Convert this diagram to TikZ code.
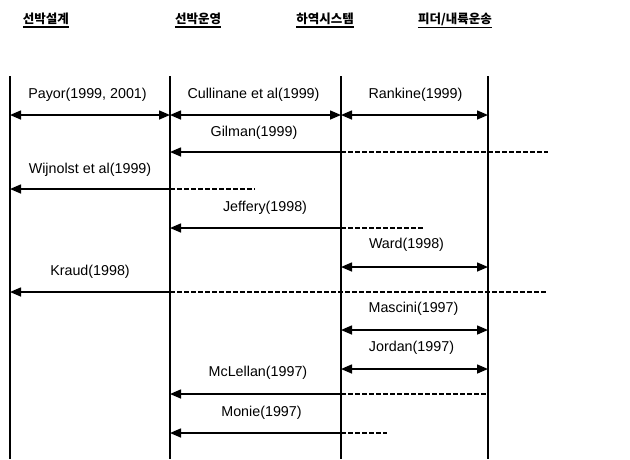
\documentclass[tikz,border=0pt]{standalone}
\usepackage{fontspec}
\setmainfont{Liberation Sans}
\newfontfamily\krfont{Noto Sans CJK KR}
\usetikzlibrary{arrows.meta}
\begin{document}
\begin{tikzpicture}[x=1pt,y=-1pt,
  lane/.style={line width=1.5pt},
  conn/.style={line width=1.5pt},
  dline/.style={line width=1.2pt, dash pattern=on 4.5pt off 2.5pt},
  tipend/.style={-{Triangle[length=11pt,width=9pt]}},
  both/.style={{Triangle[length=11pt,width=9pt]}-{Triangle[length=11pt,width=9pt]}},
  lbl/.style={inner sep=0pt, font=\fontsize{14.3}{17}\selectfont},
  hdr/.style={inner sep=0pt, font=\krfont\bfseries\fontsize{12.5}{14}\selectfont},
  uline/.style={line width=1.3pt}]
\useasboundingbox (0,0) rectangle (630,459);
% headers
\node[hdr] (h1) at (46,19) {선박설계};
\node[hdr] (h2) at (198,19) {선박운영};
\node[hdr] (h3) at (325,19) {하역시스템};
\node[hdr] (h4) at (455,19) {피더/내륙운송};
\foreach \h in {h1,h2,h3,h4}{
  \draw[uline] ([yshift=-2pt]\h.south west) -- ([yshift=-2pt]\h.south east);
}
% lanes
\coordinate (t1) at (10,76);  \coordinate (b1) at (10,459);
\coordinate (t2) at (170,76); \coordinate (b2) at (170,459);
\coordinate (t3) at (341,76); \coordinate (b3) at (341,459);
\coordinate (t4) at (488,76); \coordinate (b4) at (488,459);
\draw[lane] (t1) -- (b1);
\draw[lane] (t2) -- (b2);
\draw[lane] (t3) -- (b3);
\draw[lane] (t4) -- (b4);
% labels
\node[lbl] (payor) at (87.5,95) {Payor(1999, 2001)};
\node[lbl] (cull) at (253.5,95) {Cullinane et al(1999)};
\node[lbl] (rank) at (415.5,95) {Rankine(1999)};
\node[lbl] (gil) at (254,133) {Gilman(1999)};
\node[lbl] (wij) at (90,170) {Wijnolst et al(1999)};
\node[lbl] (jef) at (265,208) {Jeffery(1998)};
\node[lbl] (ward) at (406.5,245) {Ward(1998)};
\node[lbl] (kra) at (90,272) {Kraud(1998)};
\node[lbl] (mas) at (413.5,309) {Mascini(1997)};
\node[lbl] (jor) at (411.5,348) {Jordan(1997)};
\node[lbl] (mcl) at (258,373) {McLellan(1997)};
\node[lbl] (mon) at (261.5,413) {Monie(1997)};
% Payor / Cullinane / Rankine
\coordinate (pa1) at (10,115);  \coordinate (pa2) at (170,115);
\coordinate (pa3) at (341,115); \coordinate (pa4) at (488,115);
\draw[conn,both] (pa1) -- (pa2);
\draw[conn,both] (pa2) -- (pa3);
\draw[conn,both] (pa3) -- (pa4);
% Gilman
\coordinate (gi1) at (170,152); \coordinate (gi2) at (341,152); \coordinate (gi3) at (548,152);
\draw[dline] (gi2) -- (gi3);
\draw[conn,tipend] (gi2) -- (gi1);
% Wijnolst
\coordinate (wi1) at (10,189); \coordinate (wi2) at (170,189); \coordinate (wi3) at (255,189);
\draw[dline] (wi2) -- (wi3);
\draw[conn,tipend] (wi2) -- (wi1);
% Jeffery
\coordinate (je1) at (170,228); \coordinate (je2) at (341,228); \coordinate (je3) at (425,228);
\draw[dline] (je2) -- (je3);
\draw[conn,tipend] (je2) -- (je1);
% Ward
\coordinate (wa1) at (341,267); \coordinate (wa2) at (488,267);
\draw[conn,both] (wa1) -- (wa2);
% Kraud
\coordinate (kr1) at (10,292); \coordinate (kr2) at (170,292); \coordinate (kr3) at (548,292);
\draw[dline] (kr2) -- (kr3);
\draw[conn,tipend] (kr2) -- (kr1);
% Mascini
\coordinate (ma1) at (341,330); \coordinate (ma2) at (488,330);
\draw[conn,both] (ma1) -- (ma2);
% Jordan
\coordinate (jo1) at (341,369); \coordinate (jo2) at (488,369);
\draw[conn,both] (jo1) -- (jo2);
% McLellan
\coordinate (mc1) at (170,394); \coordinate (mc2) at (341,394); \coordinate (mc3) at (488,394);
\draw[dline] (mc2) -- (mc3);
\draw[conn,tipend] (mc2) -- (mc1);
% Monie
\coordinate (mo1) at (170,433); \coordinate (mo2) at (341,433); \coordinate (mo3) at (387,433);
\draw[dline] (mo2) -- (mo3);
\draw[conn,tipend] (mo2) -- (mo1);
\end{tikzpicture}
\end{document}
